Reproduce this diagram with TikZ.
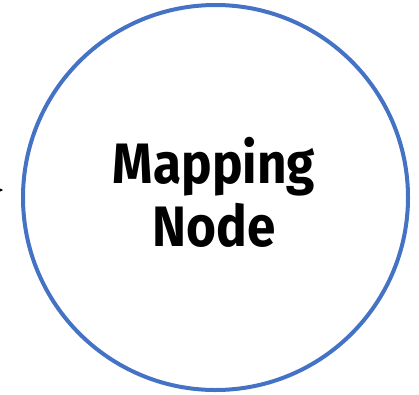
\documentclass[tikz,border=0pt]{standalone}
\usepackage{fontspec}
\setmainfont{Fira Sans}
\newfontfamily\mapfont[FakeStretch=0.9]{Fira Sans}
\usetikzlibrary{arrows.meta}

\begin{document}
\begin{tikzpicture}[
  x=1pt, y=-1pt,
  mapcircle/.style={
    circle,
    draw={rgb,255:red,68;green,114;blue,196},
    line width=4pt,
    minimum size=385pt,
    inner sep=0pt
  },
  maplabel/.style={
    font=\mapfont\fontsize{57}{63}\selectfont\bfseries,
    align=center
  }
]
\useasboundingbox (0,0) rectangle (419,394);

% circle
\node[mapcircle] (map) at (215.5,197.5) {};

% label
\node[maplabel] (maptext) at (214,192) {Mapping\\Node};

% incoming arrow (cut off at the left edge)
\coordinate (src) at (-30,190);
\coordinate (tip) at (3,190);
\draw[-{Stealth[length=6pt,width=6pt]}, line width=0.6pt] (src) -- (tip);

\end{tikzpicture}
\end{document}
